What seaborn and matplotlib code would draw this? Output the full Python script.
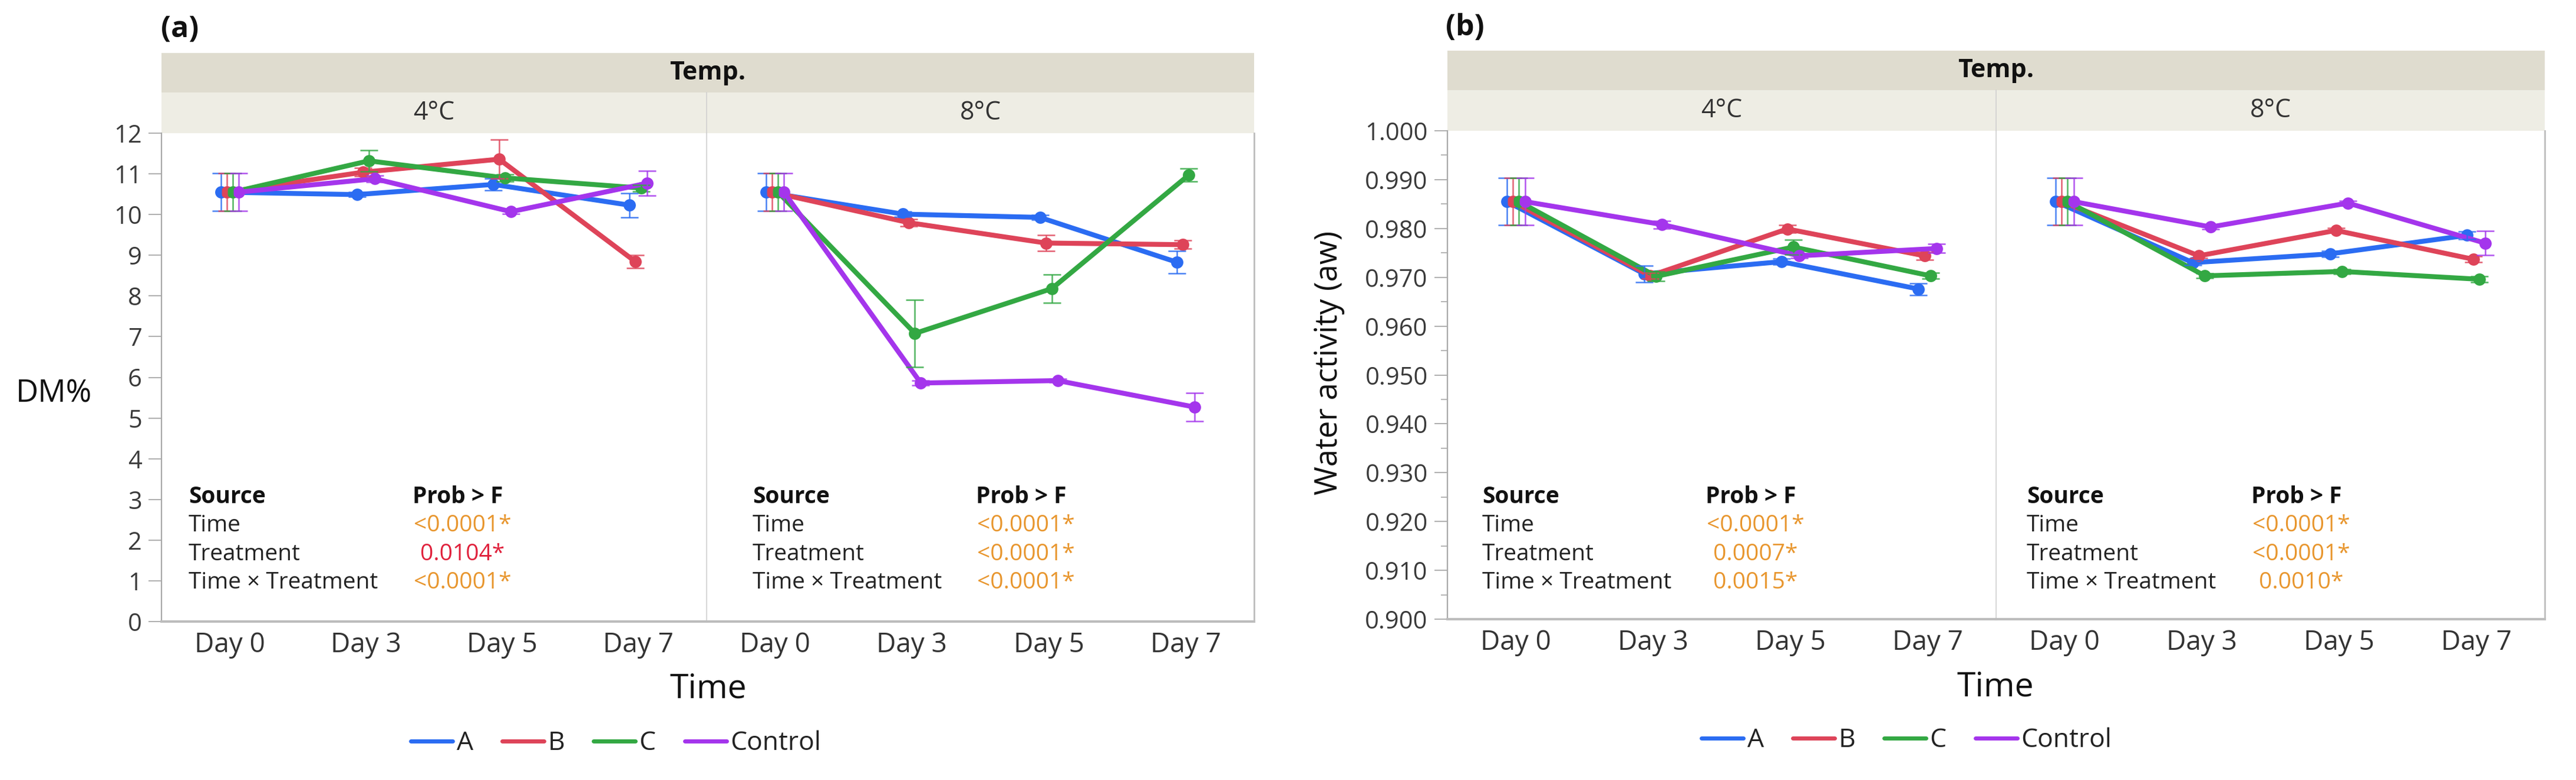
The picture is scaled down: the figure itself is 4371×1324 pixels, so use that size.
import numpy as np
import pandas as pd
import matplotlib
matplotlib.use("Agg")
import matplotlib.pyplot as plt
import seaborn as sns
from matplotlib.lines import Line2D
from matplotlib.ticker import MultipleLocator, FormatStrFormatter

# ---------------------------
# data
# ---------------------------
days = ["Day 0", "Day 3", "Day 5", "Day 7"]
treatments = ["A", "B", "C", "Control"]
temps = ["4°C", "8°C"]

# DM% means, rows = A, B, C, Control
dm_4c_mean = [[10.55, 10.49, 10.74, 10.23],
              [10.55, 11.04, 11.36, 8.84],
              [10.55, 11.32, 10.90, 10.65],
              [10.55, 10.88, 10.07, 10.77]]
dm_4c_err = [[0.46, 0.06, 0.15, 0.30],
             [0.46, 0.10, 0.48, 0.16],
             [0.46, 0.26, 0.08, 0.08],
             [0.46, 0.08, 0.06, 0.31]]
dm_8c_mean = [[10.55, 10.01, 9.93, 8.83],
              [10.55, 9.80, 9.30, 9.26],
              [10.55, 7.08, 8.18, 10.97],
              [10.55, 5.86, 5.92, 5.27]]
dm_8c_err = [[0.46, 0.06, 0.06, 0.27],
             [0.46, 0.08, 0.20, 0.10],
             [0.46, 0.82, 0.35, 0.16],
             [0.46, 0.06, 0.05, 0.35]]

# water activity means
aw_4c_mean = [[0.9855, 0.9707, 0.9732, 0.9676],
              [0.9855, 0.9703, 0.9799, 0.9744],
              [0.9855, 0.9702, 0.9762, 0.9703],
              [0.9855, 0.9808, 0.9744, 0.9759]]
aw_4c_err = [[0.0048, 0.0017, 0.0006, 0.0012],
             [0.0048, 0.0006, 0.0008, 0.0008],
             [0.0048, 0.0010, 0.0015, 0.0006],
             [0.0048, 0.0008, 0.0005, 0.0009]]
aw_8c_mean = [[0.9855, 0.9730, 0.9748, 0.9786],
              [0.9855, 0.9744, 0.9796, 0.9737],
              [0.9855, 0.9703, 0.9712, 0.9696],
              [0.9855, 0.9803, 0.9852, 0.9770]]
aw_8c_err = [[0.0048, 0.0005, 0.0006, 0.0008],
             [0.0048, 0.0005, 0.0005, 0.0006],
             [0.0048, 0.0005, 0.0005, 0.0006],
             [0.0048, 0.0005, 0.0005, 0.0025]]

# ANOVA tables (Prob > F)
anova_sources = ["Time", "Treatment", "Time × Treatment"]
dm_4c_p = ["<0.0001*", "0.0104*", "<0.0001*"]
dm_8c_p = ["<0.0001*", "<0.0001*", "<0.0001*"]
aw_4c_p = ["<0.0001*", "0.0007*", "0.0015*"]
aw_8c_p = ["<0.0001*", "<0.0001*", "0.0010*"]
dm_4c_pcol = ["#E8962E", "#E0213C", "#E8962E"]
other_pcol = ["#E8962E", "#E8962E", "#E8962E"]

palette = {"A": "#2B6CF2", "B": "#DE4459", "C": "#33A843", "Control": "#A435EC"}
dodge = [-0.065, -0.022, 0.022, 0.065]

# ---------------------------
# layout (pixels of a 4371 x 1324 canvas)
# ---------------------------
W, H = 4371, 1324
sns.set_theme(style="white")
plt.rcParams["font.family"] = ["Open Sans", "DejaVu Sans"]
plt.rcParams["axes.unicode_minus"] = False

fig = plt.figure(figsize=(W / 100, H / 100), dpi=100)
fig.patch.set_facecolor("white")


def fx(px):
    return px / W


def fy(py):
    return 1 - py / H


def long_frame(means, errs):
    rows = []
    for ti, t in enumerate(treatments):
        for di, d in enumerate(days):
            rows.append({"Treatment": t, "Time": d, "pos": di + dodge[ti],
                         "value": means[ti][di], "err": errs[ti][di]})
    return pd.DataFrame(rows)


def draw_panel(xs, ys, strips, data, ylim, major, minor, fmt, p_lists, p_cols,
               table_x, tag, tag_xy, ylabel_kw, time_xy, legend_xy):
    x0, x1, x2 = xs
    y_top, y_bot = ys
    s0, s1, s2 = strips

    # strips
    sax = fig.add_axes([fx(x0), fy(s1), fx(x2) - fx(x0), (s1 - s0) / H])
    sax.set_facecolor("#DFDCCF")
    sax.set_xticks([]); sax.set_yticks([])
    for sp in sax.spines.values():
        sp.set_visible(False)
    sax.text(0.5, 0.5, "Temp.", ha="center", va="center", fontsize=31,
             fontweight="bold", color="#111111", transform=sax.transAxes)

    axes = []
    for i, (a, b) in enumerate([(x0, x1), (x1, x2)]):
        fax = fig.add_axes([fx(a), fy(s2), fx(b) - fx(a), (s2 - s1) / H])
        fax.set_facecolor("#EEEDE4")
        fax.set_xticks([]); fax.set_yticks([])
        for sp in fax.spines.values():
            sp.set_visible(False)
        if i == 1:
            fax.spines["left"].set_visible(True)
            fax.spines["left"].set_color("#D0D0D0")
            fax.spines["left"].set_linewidth(1.2)
        fax.text(0.5, 0.5, temps[i], ha="center", va="center", fontsize=31,
                 color="#333333", transform=fax.transAxes)

        ax = fig.add_axes([fx(a), fy(y_bot), fx(b) - fx(a), (y_bot - y_top) / H])
        axes.append(ax)
        means, errs = data[i]
        df = long_frame(means, errs)
        sns.lineplot(data=df, x="pos", y="value", hue="Treatment",
                     hue_order=treatments, palette=palette, marker="o",
                     markersize=15, markeredgewidth=0, linewidth=6,
                     errorbar=None, legend=False, ax=ax)
        for t in treatments:
            d = df[df["Treatment"] == t]
            ax.errorbar(d["pos"], d["value"], yerr=d["err"], fmt="none",
                        ecolor=palette[t], elinewidth=1.8, capsize=11,
                        capthick=1.8, alpha=0.85)
        ax.set_xlim(-0.5, 3.5)
        ax.set_ylim(*ylim)
        ax.set_xticks(range(len(days)))
        ax.set_xticklabels(days)
        ax.set_xlabel("")
        ax.set_ylabel("")
        ax.tick_params(axis="x", length=0, pad=12, labelsize=33, labelcolor="#333333")
        ax.yaxis.set_major_locator(MultipleLocator(major))
        if minor:
            ax.yaxis.set_minor_locator(MultipleLocator(minor))
        ax.yaxis.set_major_formatter(FormatStrFormatter(fmt))
        for sp in ax.spines.values():
            sp.set_visible(False)
        ax.spines["bottom"].set_visible(True)
        ax.spines["bottom"].set_color("#BDBDBD")
        ax.spines["bottom"].set_linewidth(3)
        if i == 0:
            ax.spines["left"].set_visible(True)
            ax.spines["left"].set_color("#A8A8A8")
            ax.spines["left"].set_linewidth(1.6)
            ax.tick_params(axis="y", which="major", left=True, length=16, width=1.3,
                           color="#A8A8A8", pad=8, labelsize=30, labelcolor="#3A3A3A")
            ax.tick_params(axis="y", which="minor", left=True, length=8, width=1.2,
                           color="#A8A8A8")
        else:
            ax.spines["left"].set_visible(True)
            ax.spines["left"].set_color("#D0D0D0")
            ax.spines["left"].set_linewidth(1.2)
            ax.spines["right"].set_visible(True)
            ax.spines["right"].set_color("#BDBDBD")
            ax.spines["right"].set_linewidth(2)
            ax.tick_params(axis="y", which="both", left=False, labelleft=False)

        # ANOVA table
        sx, px = table_x[i]
        row_y = [843, 892, 941, 989]
        fig.text(fx(sx), fy(row_y[0]), "Source", fontsize=28, fontweight="bold",
                 ha="left", va="center", color="#111111")
        fig.text(fx(px), fy(row_y[0]), "Prob > F", fontsize=28, fontweight="bold",
                 ha="center", va="center", color="#111111")
        for k, src in enumerate(anova_sources):
            fig.text(fx(sx), fy(row_y[k + 1]), src, fontsize=28, ha="left",
                     va="center", color="#222222")
            fig.text(fx(px + 8), fy(row_y[k + 1]), p_lists[i][k], fontsize=28,
                     ha="center", va="center", color=p_cols[i][k])

    # labels
    fig.text(fx(tag_xy[0]), fy(tag_xy[1]), tag, fontsize=36, fontweight="bold",
             ha="left", va="center", color="#111111")
    fig.text(fx(ylabel_kw["x"]), fy(ylabel_kw["y"]), ylabel_kw["text"],
             fontsize=ylabel_kw["size"], rotation=ylabel_kw["rot"],
             ha="center", va="center", color="#111111")
    fig.text(fx(time_xy[0]), fy(time_xy[1]), "Time", fontsize=41,
             ha="center", va="center", color="#111111")

    handles = [Line2D([0], [0], color=palette[t], lw=5) for t in treatments]
    fig.legend(handles, treatments, loc="center",
               bbox_to_anchor=(fx(legend_xy[0]), fy(legend_xy[1])), ncol=4,
               frameon=False, fontsize=32, handlelength=1.6, handletextpad=0.15,
               columnspacing=1.1, labelcolor="#222222")
    return axes


# (a) DM%
draw_panel(xs=(274, 1199, 2128), ys=(226, 1055), strips=(90, 157, 226),
           data=[(dm_4c_mean, dm_4c_err), (dm_8c_mean, dm_8c_err)],
           ylim=(0, 12), major=1, minor=None, fmt="%d",
           p_lists=[dm_4c_p, dm_8c_p], p_cols=[dm_4c_pcol, other_pcol],
           table_x=[(320, 777), (1277, 1733)],
           tag="(a)", tag_xy=(273, 50),
           ylabel_kw={"x": 92, "y": 669, "text": "DM%", "size": 38, "rot": 0},
           time_xy=(1202, 1170), legend_xy=(1045, 1262))

# (b) water activity
draw_panel(xs=(2456, 3387, 4318), ys=(222, 1051), strips=(86, 153, 222),
           data=[(aw_4c_mean, aw_4c_err), (aw_8c_mean, aw_8c_err)],
           ylim=(0.9, 1.0), major=0.01, minor=0.005, fmt="%.3f",
           p_lists=[aw_4c_p, aw_8c_p], p_cols=[other_pcol, other_pcol],
           table_x=[(2515, 2971), (3439, 3897)],
           tag="(b)", tag_xy=(2453, 47),
           ylabel_kw={"x": 2255, "y": 616, "text": "Water activity (aw)", "size": 38, "rot": 90},
           time_xy=(3386, 1167), legend_xy=(3235, 1257))

fig.savefig("out.png", dpi=100, facecolor="white")
